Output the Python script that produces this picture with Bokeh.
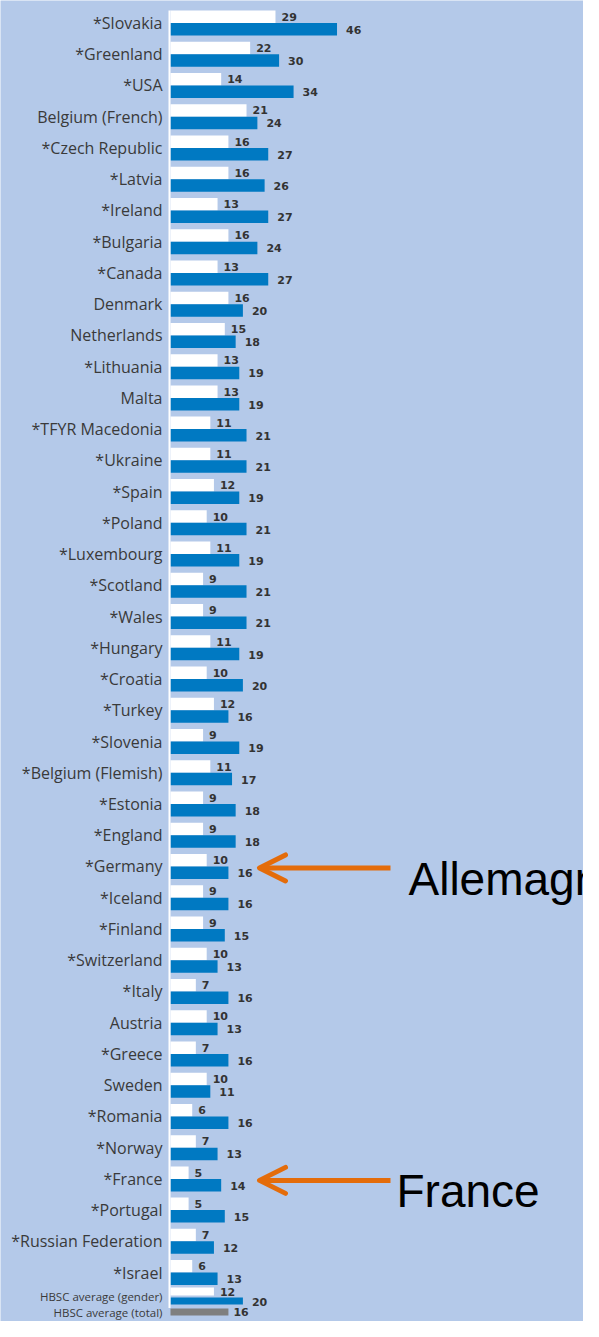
import numpy as np
from bokeh.plotting import figure
from bokeh.models import Range1d, Arrow, OpenHead
from bokeh.core.properties import value
from bokeh.embed import file_html
from bokeh.resources import INLINE

# ---------------- data ----------------
countries = [
    "*Slovakia", "*Greenland", "*USA", "Belgium (French)", "*Czech Republic",
    "*Latvia", "*Ireland", "*Bulgaria", "*Canada", "Denmark", "Netherlands",
    "*Lithuania", "Malta", "*TFYR Macedonia", "*Ukraine", "*Spain", "*Poland",
    "*Luxembourg", "*Scotland", "*Wales", "*Hungary", "*Croatia", "*Turkey",
    "*Slovenia", "*Belgium (Flemish)", "*Estonia", "*England", "*Germany",
    "*Iceland", "*Finland", "*Switzerland", "*Italy", "Austria", "*Greece",
    "Sweden", "*Romania", "*Norway", "*France", "*Portugal",
    "*Russian Federation", "*Israel",
]
girls = [29, 22, 14, 21, 16, 16, 13, 16, 13, 16, 15, 13, 13, 11, 11, 12, 10,
         11, 9, 9, 11, 10, 12, 9, 11, 9, 9, 10, 9, 9, 10, 7, 10, 7, 10, 6, 7,
         5, 5, 7, 6]
boys = [46, 30, 34, 24, 27, 26, 27, 24, 27, 20, 18, 19, 19, 21, 21, 19, 21,
        19, 21, 21, 19, 20, 16, 19, 17, 18, 18, 16, 16, 15, 13, 16, 13, 16, 11,
        16, 13, 14, 15, 12, 13]
avg_labels = ["HBSC average (gender)", "HBSC average (total)"]
avg_girls = 12
avg_boys = 20
avg_total = 16
callouts = ["Allemagne", "France"]
callout_rows = ["*Germany", "*France"]

# ---------------- styles / layout ----------------
BG = "#b4c9e9"
BLUE = "#0079c2"
GREY = "#7f7f7f"
ORANGE = "#e46c0a"
TXT = "#3a3a3a"
VAL = "#333333"

W, H = 583, 1321
K = 3.62      # px per unit (x)
X0 = 170.0    # px of value zero inside figure
S = 31.24     # px per row
Y0 = 22.5     # px of first row centre inside figure


def px(v):
    return v / S


def hx(v):
    return v / K


p = figure(width=W, height=H, output_backend="svg", toolbar_location=None,
           x_range=Range1d(-X0 / K, (W - X0) / K),
           y_range=Range1d((H - Y0) / S, -Y0 / S),
           min_border=0, background_fill_color=BG, border_fill_color=BG,
           outline_line_color=None)
p.axis.visible = False
p.grid.visible = False

n = len(countries)
ys = np.arange(n, dtype=float)
yw = ys - px(6.25)
yb = ys + px(6.25)

# country bars
p.hbar(y=yw, left=0, right=girls, height=px(12.5), fill_color="white",
       line_color=None)
p.hbar(y=yb, left=0, right=boys, height=px(12.5), fill_color=BLUE,
       line_color=None)

# averages (slightly compressed to fit the page)
g = (n - 1) + px(24)
t = g + px(15.5)
p.hbar(y=[g - px(5)], left=0, right=[avg_girls], height=px(8),
       fill_color="white", line_color=None)
p.hbar(y=[g + px(4.5)], left=0, right=[avg_boys], height=px(7),
       fill_color=BLUE, line_color=None)
p.hbar(y=[t], left=0, right=[avg_total], height=px(7),
       fill_color=GREY, line_color=None)

# axis line
p.segment(x0=[-hx(1)], y0=[-px(12.5)], x1=[-hx(1)], y1=[t - px(4)],
          line_color="white", line_width=2)

# category labels
p.text(x=-hx(8), y=ys, text=countries, text_align="right",
       text_baseline="middle", text_font=value("Open Sans"),
       text_font_size="16px", text_color=TXT)
p.text(x=-hx(8), y=[g, t], text=avg_labels, text_align="right",
       text_baseline="middle", text_font=value("Open Sans"),
       text_font_size="11.5px", text_color=TXT)

# value labels
vfont = dict(text_font=value("DejaVu Sans"), text_font_style="bold",
             text_font_size="11px", text_color=VAL, text_baseline="middle")
p.text(x=np.array(girls) + hx(6), y=yw, text=[str(v) for v in girls], **vfont)
p.text(x=np.array(boys) + hx(9), y=yb + px(0.5), text=[str(v) for v in boys],
       **vfont)
p.text(x=[avg_girls + hx(6), avg_boys + hx(9), avg_total + hx(5)],
       y=[g - px(5), g + px(5), t],
       text=[str(avg_girls), str(avg_boys), str(avg_total)], **vfont)

# call-out arrows
tip, tail = hx(87), hx(220)
text_x = [hx(238), hx(226)]
for label, row, tx in zip(callouts, callout_rows, text_x):
    r = countries.index(row) + px(1.5)
    p.add_layout(Arrow(end=OpenHead(line_color=ORANGE, line_width=5, size=26,
                                    line_cap="round", line_join="round"),
                       x_start=tail, y_start=r, x_end=tip + hx(2), y_end=r,
                       line_color=ORANGE, line_width=5))
    p.text(x=[tx], y=[r + px(11)], text=[label], text_align="left",
           text_baseline="alphabetic", text_font=value("Liberation Sans"),
           text_font_size="46px", text_color="black")

open("out.html", "w").write(file_html(p, INLINE))
